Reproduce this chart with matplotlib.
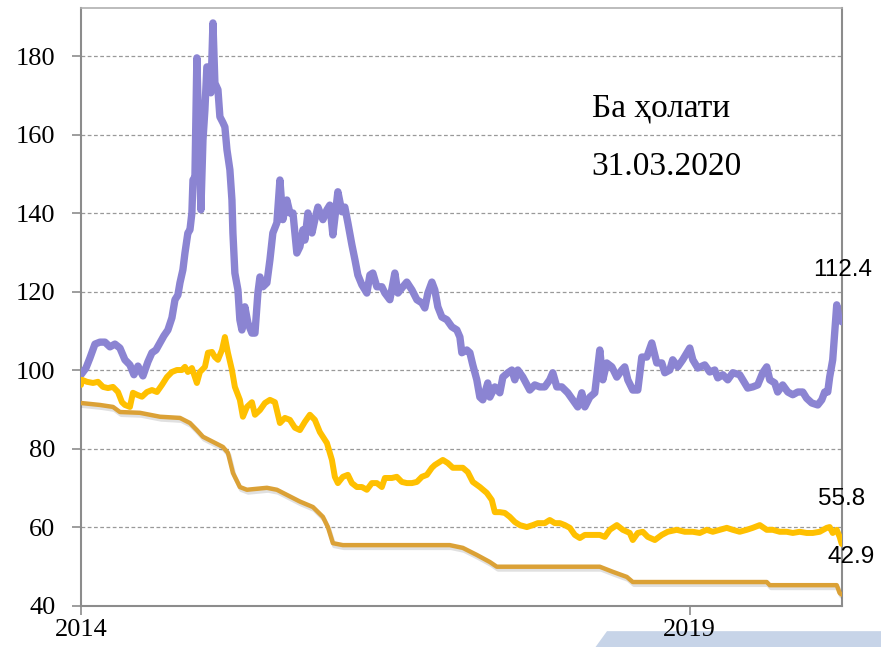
import matplotlib
matplotlib.use("Agg")
import matplotlib.pyplot as plt
import matplotlib.patheffects as pe
from matplotlib.patches import Polygon
import numpy as np

# years counted from the start of 2014
START = 2014

purple_t = [0.000, 0.041, 0.074, 0.115, 0.156, 0.197, 0.238, 0.279, 0.320, 0.361,
            0.402, 0.435, 0.468, 0.509, 0.550, 0.583, 0.616, 0.649, 0.681, 0.714,
            0.747, 0.772, 0.796, 0.813, 0.837, 0.854, 0.878, 0.895, 0.911, 0.920,
            0.936, 0.952, 0.969, 0.985, 1.002, 1.018, 1.034, 1.059, 1.067, 1.084,
            1.100, 1.125, 1.141, 1.166, 1.182, 1.199, 1.223, 1.240, 1.248, 1.264,
            1.289, 1.305, 1.322, 1.346, 1.371, 1.404, 1.429, 1.453, 1.470, 1.494,
            1.527, 1.552, 1.576, 1.609, 1.634, 1.658, 1.675, 1.691, 1.716, 1.741,
            1.773, 1.798, 1.823, 1.839, 1.864, 1.897, 1.921, 1.946, 1.987, 2.020,
            2.044, 2.069, 2.110, 2.143, 2.167, 2.192, 2.225, 2.250, 2.274, 2.307,
            2.348, 2.373, 2.397, 2.430, 2.471, 2.496, 2.537, 2.578, 2.603, 2.644,
            2.676, 2.718, 2.759, 2.800, 2.824, 2.849, 2.882, 2.906, 2.931, 2.964,
            3.005, 3.046, 3.087, 3.112, 3.128, 3.169, 3.194, 3.218, 3.251, 3.276,
            3.300, 3.341, 3.358, 3.399, 3.440, 3.465, 3.506, 3.539, 3.563, 3.588,
            3.629, 3.686, 3.727, 3.768, 3.809, 3.850, 3.875, 3.908, 3.949, 3.998,
            4.039, 4.080, 4.113, 4.138, 4.179, 4.220, 4.261, 4.286, 4.318, 4.360,
            4.401, 4.442, 4.466, 4.491, 4.532, 4.573, 4.606, 4.647, 4.688, 4.729,
            4.770, 4.795, 4.836, 4.860, 4.901, 4.942, 5.000, 5.025, 5.066, 5.123,
            5.164, 5.205, 5.230, 5.271, 5.312, 5.353, 5.410, 5.435, 5.476, 5.517,
            5.558, 5.599, 5.632, 5.657, 5.698, 5.722, 5.763, 5.805, 5.846, 5.887,
            5.928, 5.960, 6.002, 6.051, 6.084, 6.108, 6.133, 6.149, 6.174, 6.190,
            6.207, 6.223, 6.248]
purple_v = [98.9, 100.6, 103.2, 106.7, 107.2, 107.2, 106.0, 106.7, 105.7, 102.7,
            101.4, 98.9, 101.1, 98.6, 102.2, 104.5, 105.2, 107.0, 108.8, 110.3,
            113.4, 118.0, 119.2, 122.3, 125.6, 129.9, 135.0, 135.8, 140.1, 148.5,
            149.3, 179.6, 158.7, 140.9, 158.7, 166.4, 177.3, 177.3, 170.7, 188.5,
            173.2, 171.5, 164.6, 163.1, 162.0, 156.2, 151.1, 143.4, 135.0, 124.8,
            120.5, 112.9, 110.3, 116.2, 112.1, 109.5, 109.5, 119.7, 123.8, 121.3,
            122.3, 128.2, 135.0, 137.6, 148.5, 138.4, 140.9, 143.4, 140.1, 140.1,
            129.9, 131.5, 135.8, 133.2, 140.1, 135.0, 138.4, 141.6, 138.4, 140.9,
            142.1, 134.5, 145.5, 140.4, 141.6, 137.6, 132.0, 128.2, 124.3, 121.8,
            119.7, 124.3, 124.8, 121.3, 121.3, 119.7, 118.0, 124.8, 119.7, 121.3,
            122.5, 120.5, 118.0, 117.2, 115.9, 119.7, 122.5, 120.5, 116.2, 113.6,
            112.9, 111.1, 110.3, 108.5, 104.5, 105.2, 104.5, 101.4, 97.6, 93.2,
            92.5, 96.8, 93.2, 95.8, 94.3, 98.3, 99.4, 100.1, 97.6, 100.1,
            98.3, 95.0, 96.3, 95.8, 95.8, 97.6, 99.4, 95.8, 95.8, 94.3,
            92.5, 90.7, 94.3, 90.7, 93.2, 94.3, 105.2, 97.6, 101.9, 100.9,
            98.3, 100.1, 100.9, 97.6, 95.0, 95.0, 103.4, 103.4, 107.0, 101.9,
            101.9, 99.4, 100.1, 102.7, 100.9, 102.7, 105.7, 102.7, 100.6, 101.4,
            99.6, 100.1, 98.1, 98.9, 97.6, 99.4, 98.9, 97.6, 95.5, 95.8,
            96.3, 99.4, 100.9, 97.6, 96.8, 94.5, 96.3, 94.5, 93.8, 94.5,
            94.5, 92.9, 91.7, 91.2, 92.5, 94.5, 94.5, 98.3, 102.7, 109.5,
            116.7, 113.4, 112.4]

yellow_t = [0.000, 0.008, 0.049, 0.099, 0.140, 0.181, 0.222, 0.263, 0.304, 0.337,
            0.361, 0.402, 0.427, 0.460, 0.501, 0.542, 0.583, 0.624, 0.665, 0.706,
            0.747, 0.788, 0.829, 0.854, 0.878, 0.911, 0.952, 0.977, 1.018, 1.043,
            1.076, 1.100, 1.125, 1.158, 1.182, 1.207, 1.240, 1.264, 1.305, 1.330,
            1.363, 1.404, 1.429, 1.470, 1.511, 1.552, 1.593, 1.634, 1.675, 1.716,
            1.757, 1.798, 1.839, 1.880, 1.921, 1.962, 2.020, 2.061, 2.085, 2.110,
            2.151, 2.192, 2.225, 2.266, 2.307, 2.348, 2.389, 2.430, 2.471, 2.496,
            2.553, 2.594, 2.635, 2.676, 2.718, 2.759, 2.800, 2.841, 2.882, 2.906,
            2.947, 2.972, 3.013, 3.054, 3.095, 3.136, 3.177, 3.218, 3.276, 3.333,
            3.374, 3.399, 3.440, 3.481, 3.522, 3.563, 3.604, 3.662, 3.711, 3.752,
            3.809, 3.850, 3.892, 3.933, 3.974, 4.015, 4.056, 4.097, 4.138, 4.204,
            4.261, 4.302, 4.343, 4.401, 4.450, 4.507, 4.532, 4.573, 4.614, 4.655,
            4.713, 4.770, 4.819, 4.893, 4.959, 5.025, 5.082, 5.139, 5.189, 5.246,
            5.304, 5.353, 5.410, 5.468, 5.517, 5.575, 5.632, 5.681, 5.739, 5.796,
            5.846, 5.903, 5.960, 6.010, 6.067, 6.125, 6.149, 6.174, 6.207, 6.231,
            6.248]
yellow_v = [96.3, 97.6, 97.1, 96.8, 97.1, 95.8, 95.5, 95.8, 94.5, 91.9,
            91.2, 90.7, 94.3, 93.8, 93.3, 94.5, 95.0, 94.5, 96.3, 98.3,
            99.6, 100.1, 100.1, 100.9, 99.6, 100.6, 96.8, 99.6, 100.9, 104.5,
            104.7, 103.4, 102.7, 105.2, 108.5, 104.5, 100.1, 95.8, 92.5, 88.2,
            90.7, 91.9, 88.7, 89.9, 91.7, 92.5, 91.9, 86.6, 87.9, 87.4,
            85.4, 84.8, 86.9, 88.7, 87.4, 84.3, 81.5, 77.2, 72.9, 71.3,
            72.9, 73.4, 71.3, 70.3, 70.3, 69.6, 71.3, 71.3, 70.3, 72.6,
            72.6, 72.9, 71.6, 71.3, 71.3, 71.6, 72.9, 73.4, 75.2, 75.9,
            76.7, 77.2, 76.4, 75.2, 75.2, 75.2, 74.1, 71.6, 70.3, 68.8,
            67.0, 63.9, 63.9, 63.7, 62.7, 61.4, 60.6, 60.1, 60.6, 61.1,
            61.1, 61.9, 61.1, 61.1, 60.6, 59.9, 58.1, 57.3, 58.1, 58.1,
            58.1, 57.6, 59.4, 60.6, 59.4, 58.6, 56.8, 58.6, 58.9, 57.6,
            56.8, 58.1, 58.9, 59.4, 58.9, 58.9, 58.6, 59.4, 58.9, 59.4,
            59.9, 59.4, 58.9, 59.4, 59.9, 60.6, 59.4, 59.4, 58.9, 58.9,
            58.6, 58.9, 58.6, 58.6, 58.9, 59.9, 60.1, 58.6, 59.4, 57.6,
            55.8]

orange_t = [0.000, 0.156, 0.263, 0.320, 0.484, 0.649, 0.813, 0.895, 0.952, 1.002,
            1.084, 1.166, 1.207, 1.248, 1.305, 1.363, 1.527, 1.609, 1.691, 1.798,
            1.905, 1.987, 2.028, 2.069, 2.151, 3.029, 3.136, 3.251, 3.358, 3.415,
            4.261, 4.368, 4.483, 4.532, 5.632, 5.657, 6.207, 6.231, 6.248]
orange_v = [91.7, 91.2, 90.7, 89.4, 89.2, 88.2, 87.9, 86.6, 84.8, 83.1,
            81.8, 80.5, 79.0, 73.9, 70.3, 69.6, 70.1, 69.6, 68.3, 66.6,
            65.2, 62.7, 60.1, 56.0, 55.5, 55.5, 54.8, 53.0, 51.2, 50.0,
            50.0, 48.7, 47.4, 46.1, 46.1, 45.3, 45.3, 43.3, 42.9]

y_ticks = [40, 60, 80, 100, 120, 140, 160, 180]
x_ticks = [2014, 2019]
x_labels = ["2014", "2019"]
end_labels = ["112.4", "55.8", "42.9"]

plt.rcParams['font.family'] = ['Liberation Serif', 'DejaVu Serif']

fig = plt.figure(figsize=(8.81, 6.47), dpi=100)
ax = fig.add_axes([0.0919, 0.0634, 0.8638, 0.9242])

# decorative light blue band at the bottom right
band = Polygon([(0.676, 0.0), (0.689, 0.0245), (1.0, 0.0245), (1.0, 0.0)],
               closed=True, transform=fig.transFigure, facecolor='#c7d4e8',
               edgecolor='none', zorder=-1)
fig.patches.append(band)

ax.plot(START + np.array(orange_t), orange_v, color='#dba136', lw=3.2,
        solid_joinstyle='round', solid_capstyle='round', zorder=3,
        path_effects=[pe.SimpleLineShadow(offset=(1.0, -2.0), shadow_color='#555555', alpha=0.18),
                      pe.Normal()])
ax.plot(START + np.array(purple_t), purple_v, color='#8b84d2', lw=5.3,
        solid_joinstyle='round', solid_capstyle='round', zorder=4)
ax.plot(START + np.array(yellow_t), yellow_v, color='#ffc000', lw=4.3,
        solid_joinstyle='round', solid_capstyle='round', zorder=5)

ax.set_xlim(2014, 2020.25)
ax.set_ylim(40, 192.3)
ax.set_yticks(y_ticks)
ax.set_xticks(x_ticks)
ax.set_xticklabels(x_labels)

for v in y_ticks[1:]:
    ax.axhline(v, color='#999999', lw=0.9, ls=(0, (3, 2)), zorder=1)

for side in ['left', 'bottom', 'right']:
    ax.spines[side].set_color('#8c8c8c')
    ax.spines[side].set_linewidth(1.5)
ax.spines['top'].set_color('#b0b0b0')
ax.spines['top'].set_linewidth(1.2)

ax.tick_params(axis='y', direction='out', length=6.5, width=1.2, color='#8c8c8c',
               labelsize=19, pad=12)
ax.tick_params(axis='x', direction='out', length=6.5, width=1.2, color='#8c8c8c',
               labelsize=19, pad=3)

ax.text(2018.195, 164.6, "Ба ҳолати", fontsize=24, va='baseline', ha='left')
ax.text(2018.195, 149.8, "31.03.2020", fontsize=24, va='baseline', ha='left')

sans = ['Liberation Sans', 'DejaVu Sans']
ax.text(2020.256, 125.6, end_labels[0], fontsize=17.5, family=sans, ha='center', va='center', clip_on=False)
ax.text(2020.25, 67.3, end_labels[1], fontsize=17.5, family=sans, ha='center', va='center', clip_on=False)
ax.text(2020.322, 52.5, end_labels[2], fontsize=17.5, family=sans, ha='center', va='center', clip_on=False)

fig.savefig("out.png", dpi=100)
